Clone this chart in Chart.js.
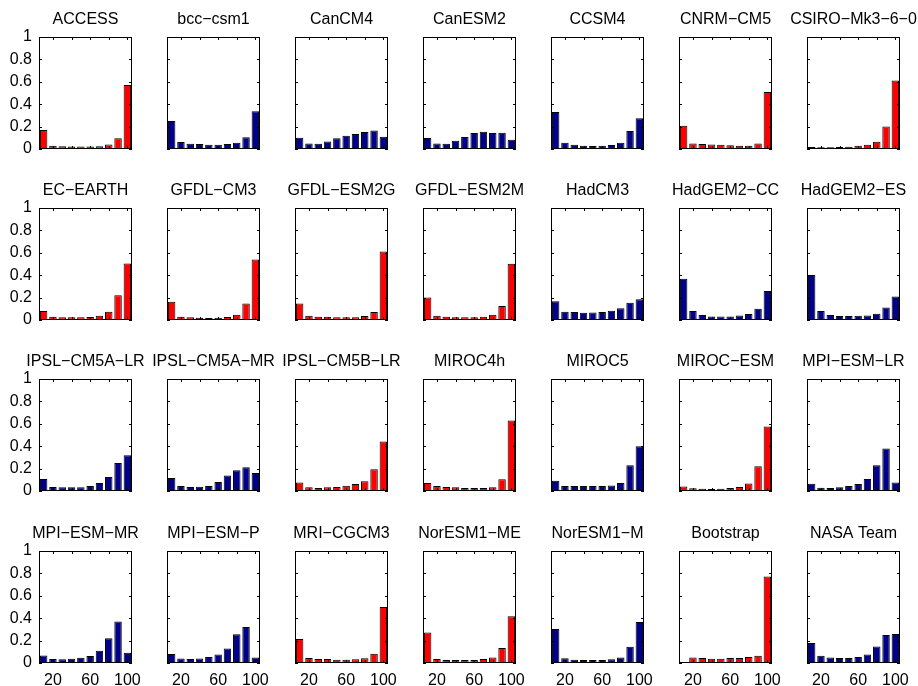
<!DOCTYPE html>
<html>
<head>
<meta charset="utf-8">
<script src="https://cdn.jsdelivr.net/npm/chart.js@4.4.1/dist/chart.umd.min.js"></script>
<style>
  html, body { margin: 0; padding: 0; background: #fff; overflow: hidden; }
  #grid { position: relative; width: 918px; height: 686px; overflow: hidden; }
  #grid canvas { position: absolute; }
</style>
</head>
<body>
<div id="grid"></div>
<script>
// one panel per source, 4 rows x 7 columns
const models = [
  'ACCESS', 'bcc−csm1', 'CanCM4', 'CanESM2', 'CCSM4', 'CNRM−CM5', 'CSIRO−Mk3−6−0',
  'EC−EARTH', 'GFDL−CM3', 'GFDL−ESM2G', 'GFDL−ESM2M', 'HadCM3', 'HadGEM2−CC', 'HadGEM2−ES',
  'IPSL−CM5A−LR', 'IPSL−CM5A−MR', 'IPSL−CM5B−LR', 'MIROC4h', 'MIROC5', 'MIROC−ESM', 'MPI−ESM−LR',
  'MPI−ESM−MR', 'MPI−ESM−P', 'MRI−CGCM3', 'NorESM1−ME', 'NorESM1−M', 'Bootstrap', 'NASA Team'
]
// true -> red panel, false -> blue panel
const redPanel = [
  true, false, false, false, false, true, true,
  true, true, true, true, false, false, false,
  false, false, true, true, false, true, false,
  false, false, true, true, false, true, false
]
const bins = [10, 20, 30, 40, 50, 60, 70, 80, 90, 100]
const xTickMarks = [20, 40, 60, 80, 100]
const xTickLabels = [20, 60, 100]
const yTicks = [0, 0.2, 0.4, 0.6, 0.8, 1]

// relative frequency per bin, same order as models
const freq = [
  [0.169, 0.030, 0.025, 0.022, 0.022, 0.022, 0.025, 0.040, 0.095, 0.571], // ACCESS
  [0.250, 0.062, 0.047, 0.044, 0.038, 0.038, 0.044, 0.056, 0.104, 0.337], // bcc-csm1
  [0.100, 0.050, 0.047, 0.068, 0.095, 0.118, 0.133, 0.151, 0.166, 0.109], // CanCM4
  [0.098, 0.050, 0.047, 0.074, 0.107, 0.142, 0.154, 0.142, 0.145, 0.083], // CanESM2
  [0.331, 0.056, 0.038, 0.030, 0.027, 0.030, 0.036, 0.056, 0.160, 0.275], // CCSM4
  [0.207, 0.050, 0.044, 0.041, 0.038, 0.033, 0.030, 0.030, 0.050, 0.509], // CNRM-CM5
  [0.018, 0.015, 0.015, 0.018, 0.021, 0.030, 0.038, 0.065, 0.201, 0.612], // CSIRO-Mk3-6-0
  [0.080, 0.030, 0.024, 0.024, 0.024, 0.027, 0.039, 0.074, 0.220, 0.504], // EC-EARTH
  [0.163, 0.030, 0.024, 0.021, 0.018, 0.021, 0.027, 0.047, 0.148, 0.540], // GFDL-CM3
  [0.148, 0.038, 0.030, 0.030, 0.024, 0.024, 0.024, 0.035, 0.071, 0.611], // GFDL-ESM2G
  [0.200, 0.038, 0.030, 0.024, 0.024, 0.024, 0.030, 0.047, 0.124, 0.502], // GFDL-ESM2M
  [0.168, 0.074, 0.071, 0.065, 0.068, 0.071, 0.083, 0.106, 0.153, 0.186], // HadCM3
  [0.369, 0.080, 0.044, 0.032, 0.032, 0.032, 0.041, 0.053, 0.100, 0.260], // HadGEM2-CC
  [0.401, 0.080, 0.044, 0.035, 0.035, 0.038, 0.041, 0.056, 0.112, 0.209], // HadGEM2-ES
  [0.107, 0.036, 0.033, 0.033, 0.033, 0.044, 0.071, 0.124, 0.249, 0.320], // IPSL-CM5A-LR
  [0.115, 0.044, 0.036, 0.038, 0.044, 0.080, 0.139, 0.186, 0.213, 0.160], // IPSL-CM5A-MR
  [0.077, 0.033, 0.027, 0.033, 0.036, 0.047, 0.062, 0.086, 0.195, 0.441], // IPSL-CM5B-LR
  [0.071, 0.044, 0.036, 0.033, 0.027, 0.027, 0.027, 0.033, 0.104, 0.630], // MIROC4h
  [0.092, 0.044, 0.044, 0.044, 0.044, 0.044, 0.050, 0.071, 0.231, 0.400], // MIROC5
  [0.041, 0.024, 0.021, 0.018, 0.021, 0.027, 0.036, 0.068, 0.222, 0.577], // MIROC-ESM
  [0.065, 0.030, 0.027, 0.033, 0.044, 0.062, 0.107, 0.231, 0.379, 0.077], // MPI-ESM-LR
  [0.068, 0.036, 0.033, 0.038, 0.047, 0.062, 0.109, 0.222, 0.370, 0.092], // MPI-ESM-MR
  [0.080, 0.041, 0.036, 0.041, 0.053, 0.077, 0.130, 0.257, 0.322, 0.050], // MPI-ESM-P
  [0.214, 0.045, 0.036, 0.036, 0.030, 0.030, 0.033, 0.042, 0.083, 0.501], // MRI-CGCM3
  [0.273, 0.036, 0.027, 0.027, 0.027, 0.027, 0.036, 0.050, 0.134, 0.418], // NorESM1-ME
  [0.303, 0.042, 0.030, 0.027, 0.027, 0.027, 0.033, 0.050, 0.145, 0.365], // NorESM1-M
  [0.000, 0.050, 0.045, 0.039, 0.039, 0.045, 0.045, 0.053, 0.065, 0.772], // Bootstrap
  [0.178, 0.065, 0.050, 0.045, 0.045, 0.053, 0.077, 0.148, 0.249, 0.258]  // NASA Team
]

const RED = '#ff0000'
const BLUE = '#00008b'
const FONT = "'Liberation Sans', Arial, Helvetica, sans-serif"

// plot-box layout (px)
const boxW = 93
const boxH = 112
const colLeft = [39, 167, 295, 423, 551, 679, 807]
const rowTop = [37, 208, 379, 551]
const sideW = 40   // room for y labels, mirrored on the right so titles stay centred
const titleH = 37
const axisH = 30

Chart.defaults.font.family = FONT
Chart.defaults.color = '#000'

// closed axes box with short inward ticks, drawn from the scales
const boxTicks = {
  id: 'boxTicks',
  afterDatasetsDraw (chart) {
    const { ctx, chartArea: a, scales: { x, y } } = chart
    const t = 3
    ctx.save()
    ctx.strokeStyle = '#000'
    ctx.lineWidth = 1
    ctx.beginPath()
    xTickMarks.forEach(v => {
      const px = Math.round(x.getPixelForValue(bins.indexOf(v))) + 0.5
      ctx.moveTo(px, a.top); ctx.lineTo(px, a.top + t)
      ctx.moveTo(px, a.bottom); ctx.lineTo(px, a.bottom - t)
    })
    yTicks.forEach(v => {
      const py = Math.round(y.getPixelForValue(v)) + 0.5
      ctx.moveTo(a.left, py); ctx.lineTo(a.left + t, py)
      ctx.moveTo(a.right, py); ctx.lineTo(a.right - t, py)
    })
    ctx.stroke()
    ctx.strokeRect(Math.round(a.left) + 0.5, Math.round(a.top) + 0.5,
      Math.round(a.right - a.left) - 1, Math.round(a.bottom - a.top) - 1)
    ctx.restore()
  }
}

const grid = document.getElementById('grid')

models.forEach((name, i) => {
  const row = Math.floor(i / 7)
  const col = i % 7
  const canvas = document.createElement('canvas')
  canvas.width = sideW + boxW + sideW
  canvas.height = titleH + boxH + axisH
  canvas.style.left = (colLeft[col] - sideW) + 'px'
  canvas.style.top = (rowTop[row] - titleH) + 'px'
  grid.appendChild(canvas)

  const colour = redPanel[i] ? RED : BLUE

  new Chart(canvas, { // eslint-disable-line
    type: 'bar',
    data: {
      labels: bins,
      datasets: [{
        data: freq[i],
        backgroundColor: colour,
        borderColor: '#000',
        borderWidth: 1,
        borderSkipped: false,
        barPercentage: 0.8,
        categoryPercentage: 1
      }]
    },
    plugins: [boxTicks],
    options: {
      responsive: false,
      animation: false,
      devicePixelRatio: 1,
      layout: { padding: 0 },
      plugins: {
        legend: { display: false },
        tooltip: { enabled: false },
        title: {
          display: true,
          text: name,
          color: '#000',
          font: { size: 16, weight: 'normal', lineHeight: 1.25 },
          padding: { top: 10, bottom: 7 }
        }
      },
      scales: {
        x: {
          type: 'category',
          offset: true,
          grid: { display: false },
          border: { display: false },
          ticks: {
            display: row === 3,
            autoSkip: false,
            maxRotation: 0,
            padding: 0,
            font: { size: 16 },
            callback: (v, idx) => xTickLabels.includes(bins[idx]) ? String(bins[idx]) : ''
          },
          afterFit: s => { s.height = axisH }
        },
        y: {
          min: 0,
          max: 1,
          grid: { display: false, drawTicks: false },
          border: { display: false },
          afterBuildTicks: s => { s.ticks = yTicks.map(v => ({ value: v })) },
          ticks: {
            display: col === 0,
            padding: 7,
            font: { size: 16 },
            callback: v => String(Math.round(v * 10) / 10)
          },
          afterFit: s => { s.width = sideW }
        },
        // empty right-hand axis, mirrors the label gutter
        yRight: {
          position: 'right',
          min: 0,
          max: 1,
          grid: { display: false, drawTicks: false },
          border: { display: false },
          ticks: { display: false },
          afterFit: s => { s.width = sideW }
        }
      }
    }
  })
})
</script>
</body>
</html>
